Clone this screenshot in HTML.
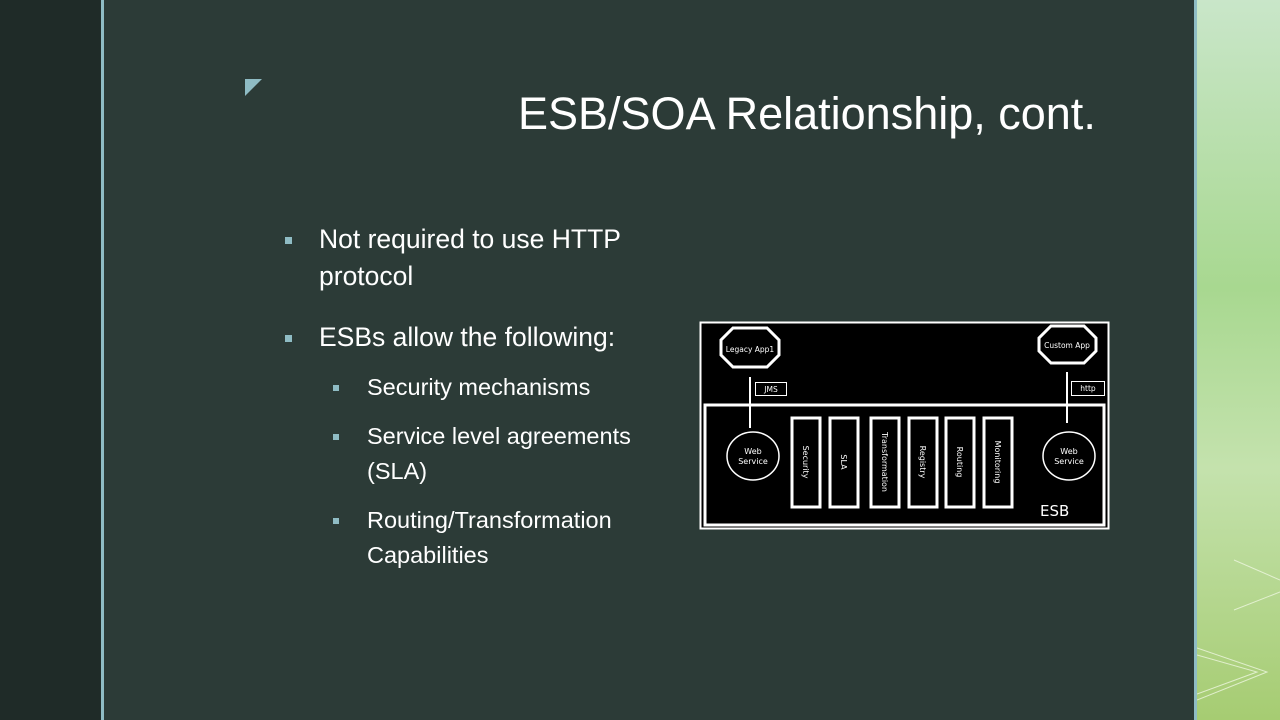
<!DOCTYPE html>
<html><head><meta charset="utf-8"><style>
body{margin:0;width:1280px;height:720px;overflow:hidden;position:relative;background:#2c3b37;font-family:"Liberation Sans",sans-serif;}
.l{position:absolute;left:0;top:0;width:101px;height:720px;background:#1f2b28}
.lb{position:absolute;left:101px;top:0;width:3px;height:720px;background:#8fbcc4}
.rb{position:absolute;left:1194px;top:0;width:3px;height:720px;background:#8fbcc4}
.r{position:absolute;left:1197px;top:0;width:83px;height:720px;background:linear-gradient(#c9e6c9,#a8d890 40%,#c4e2ad 65%,#a6cc72)}
.t{position:absolute;left:518px;top:88px;color:#fff;font-size:45px;white-space:nowrap}
.tx{position:absolute;color:#fff;font-size:26.5px;line-height:37px;white-space:nowrap}
.s{position:absolute;color:#fff;font-size:23.5px;line-height:35px;white-space:nowrap}
.b{position:absolute;width:7px;height:7px;background:#8fbcc4}
</style></head><body>
<div class="l"></div><div class="lb"></div><div class="rb"></div><div class="r"></div>
<svg style="position:absolute;left:1197px;top:0" width="83" height="720"><g fill="none" stroke="#eef6e0" stroke-width="1" opacity=".8"><path d="M37 560 L83 580 M37 610 L83 592 M0 648 L70 672 L0 700 M0 655 L60 672 L0 694"/></g></svg>
<svg style="position:absolute;left:245px;top:79px" width="18" height="18"><polygon points="0,0 17,0 0,17" fill="#8fbcc4"/></svg>
<div class="t">ESB/SOA Relationship, cont.</div>
<div class="b" style="left:285px;top:237px"></div>
<div class="tx" style="left:319px;top:221px">Not required to use HTTP<br>protocol</div>
<div class="b" style="left:285px;top:335px"></div>
<div class="tx" style="left:319px;top:319px">ESBs allow the following:</div>
<div class="b" style="left:333px;top:385px;width:6px;height:6px"></div>
<div class="s" style="left:367px;top:370px">Security mechanisms</div>
<div class="b" style="left:333px;top:434px;width:6px;height:6px"></div>
<div class="s" style="left:367px;top:419px">Service level agreements<br>(SLA)</div>
<div class="b" style="left:333px;top:518px;width:6px;height:6px"></div>
<div class="s" style="left:367px;top:503px">Routing/Transformation<br>Capabilities</div>
<svg style="position:absolute;left:0;top:0" width="1280" height="720" font-family="DejaVu Sans, sans-serif">
<rect x="700.5" y="322.5" width="408" height="206" fill="#000" stroke="#fff" stroke-width="2"/>
<rect x="705" y="405" width="399" height="120" fill="none" stroke="#fff" stroke-width="3"/>
<polygon points="733,328 767,328 779,340 779,355 767,367 733,367 721,355 721,340" fill="#000" stroke="#fff" stroke-width="3"/>
<text x="750" y="352" fill="#fff" font-size="7.5" text-anchor="middle">Legacy App1</text>
<polygon points="1051,326 1084,326 1096,338 1096,351 1084,363 1051,363 1039,351 1039,338" fill="#000" stroke="#fff" stroke-width="3"/>
<text x="1067" y="348" fill="#fff" font-size="7.5" text-anchor="middle">Custom App</text>
<line x1="750" y1="377" x2="750" y2="428" stroke="#fff" stroke-width="2"/>
<line x1="1067" y1="372" x2="1067" y2="423" stroke="#fff" stroke-width="2"/>
<rect x="755.5" y="382.5" width="31" height="13" fill="none" stroke="#fff"/>
<text x="771" y="392" fill="#fff" font-size="7.5" text-anchor="middle">JMS</text>
<rect x="1071.5" y="381.5" width="33" height="14" fill="none" stroke="#fff"/>
<text x="1088" y="391" fill="#fff" font-size="7.5" text-anchor="middle">http</text>
<ellipse cx="753" cy="456" rx="26" ry="24" fill="none" stroke="#fff" stroke-width="1.5"/>
<text x="753" y="454" fill="#fff" font-size="8" text-anchor="middle">Web</text><text x="753" y="464" fill="#fff" font-size="8" text-anchor="middle">Service</text>
<ellipse cx="1069" cy="456" rx="26" ry="24" fill="none" stroke="#fff" stroke-width="1.5"/>
<text x="1069" y="454" fill="#fff" font-size="8" text-anchor="middle">Web</text><text x="1069" y="464" fill="#fff" font-size="8" text-anchor="middle">Service</text>
<g fill="none" stroke="#fff" stroke-width="3">
<rect x="792" y="418" width="28" height="89"/><rect x="830" y="418" width="28" height="89"/><rect x="871" y="418" width="28" height="89"/>
<rect x="909" y="418" width="28" height="89"/><rect x="946" y="418" width="28" height="89"/><rect x="984" y="418" width="28" height="89"/>
</g>
<g fill="#fff" font-size="8" text-anchor="middle">
<text transform="translate(803,462) rotate(90)">Security</text>
<text transform="translate(841,462) rotate(90)">SLA</text>
<text transform="translate(882,462) rotate(90)">Transformation</text>
<text transform="translate(920,462) rotate(90)">Registry</text>
<text transform="translate(957,462) rotate(90)">Routing</text>
<text transform="translate(995,462) rotate(90)">Monitoring</text>
</g>
<text x="1040" y="516" fill="#fff" font-size="15">ESB</text>
</svg>
</body></html>
